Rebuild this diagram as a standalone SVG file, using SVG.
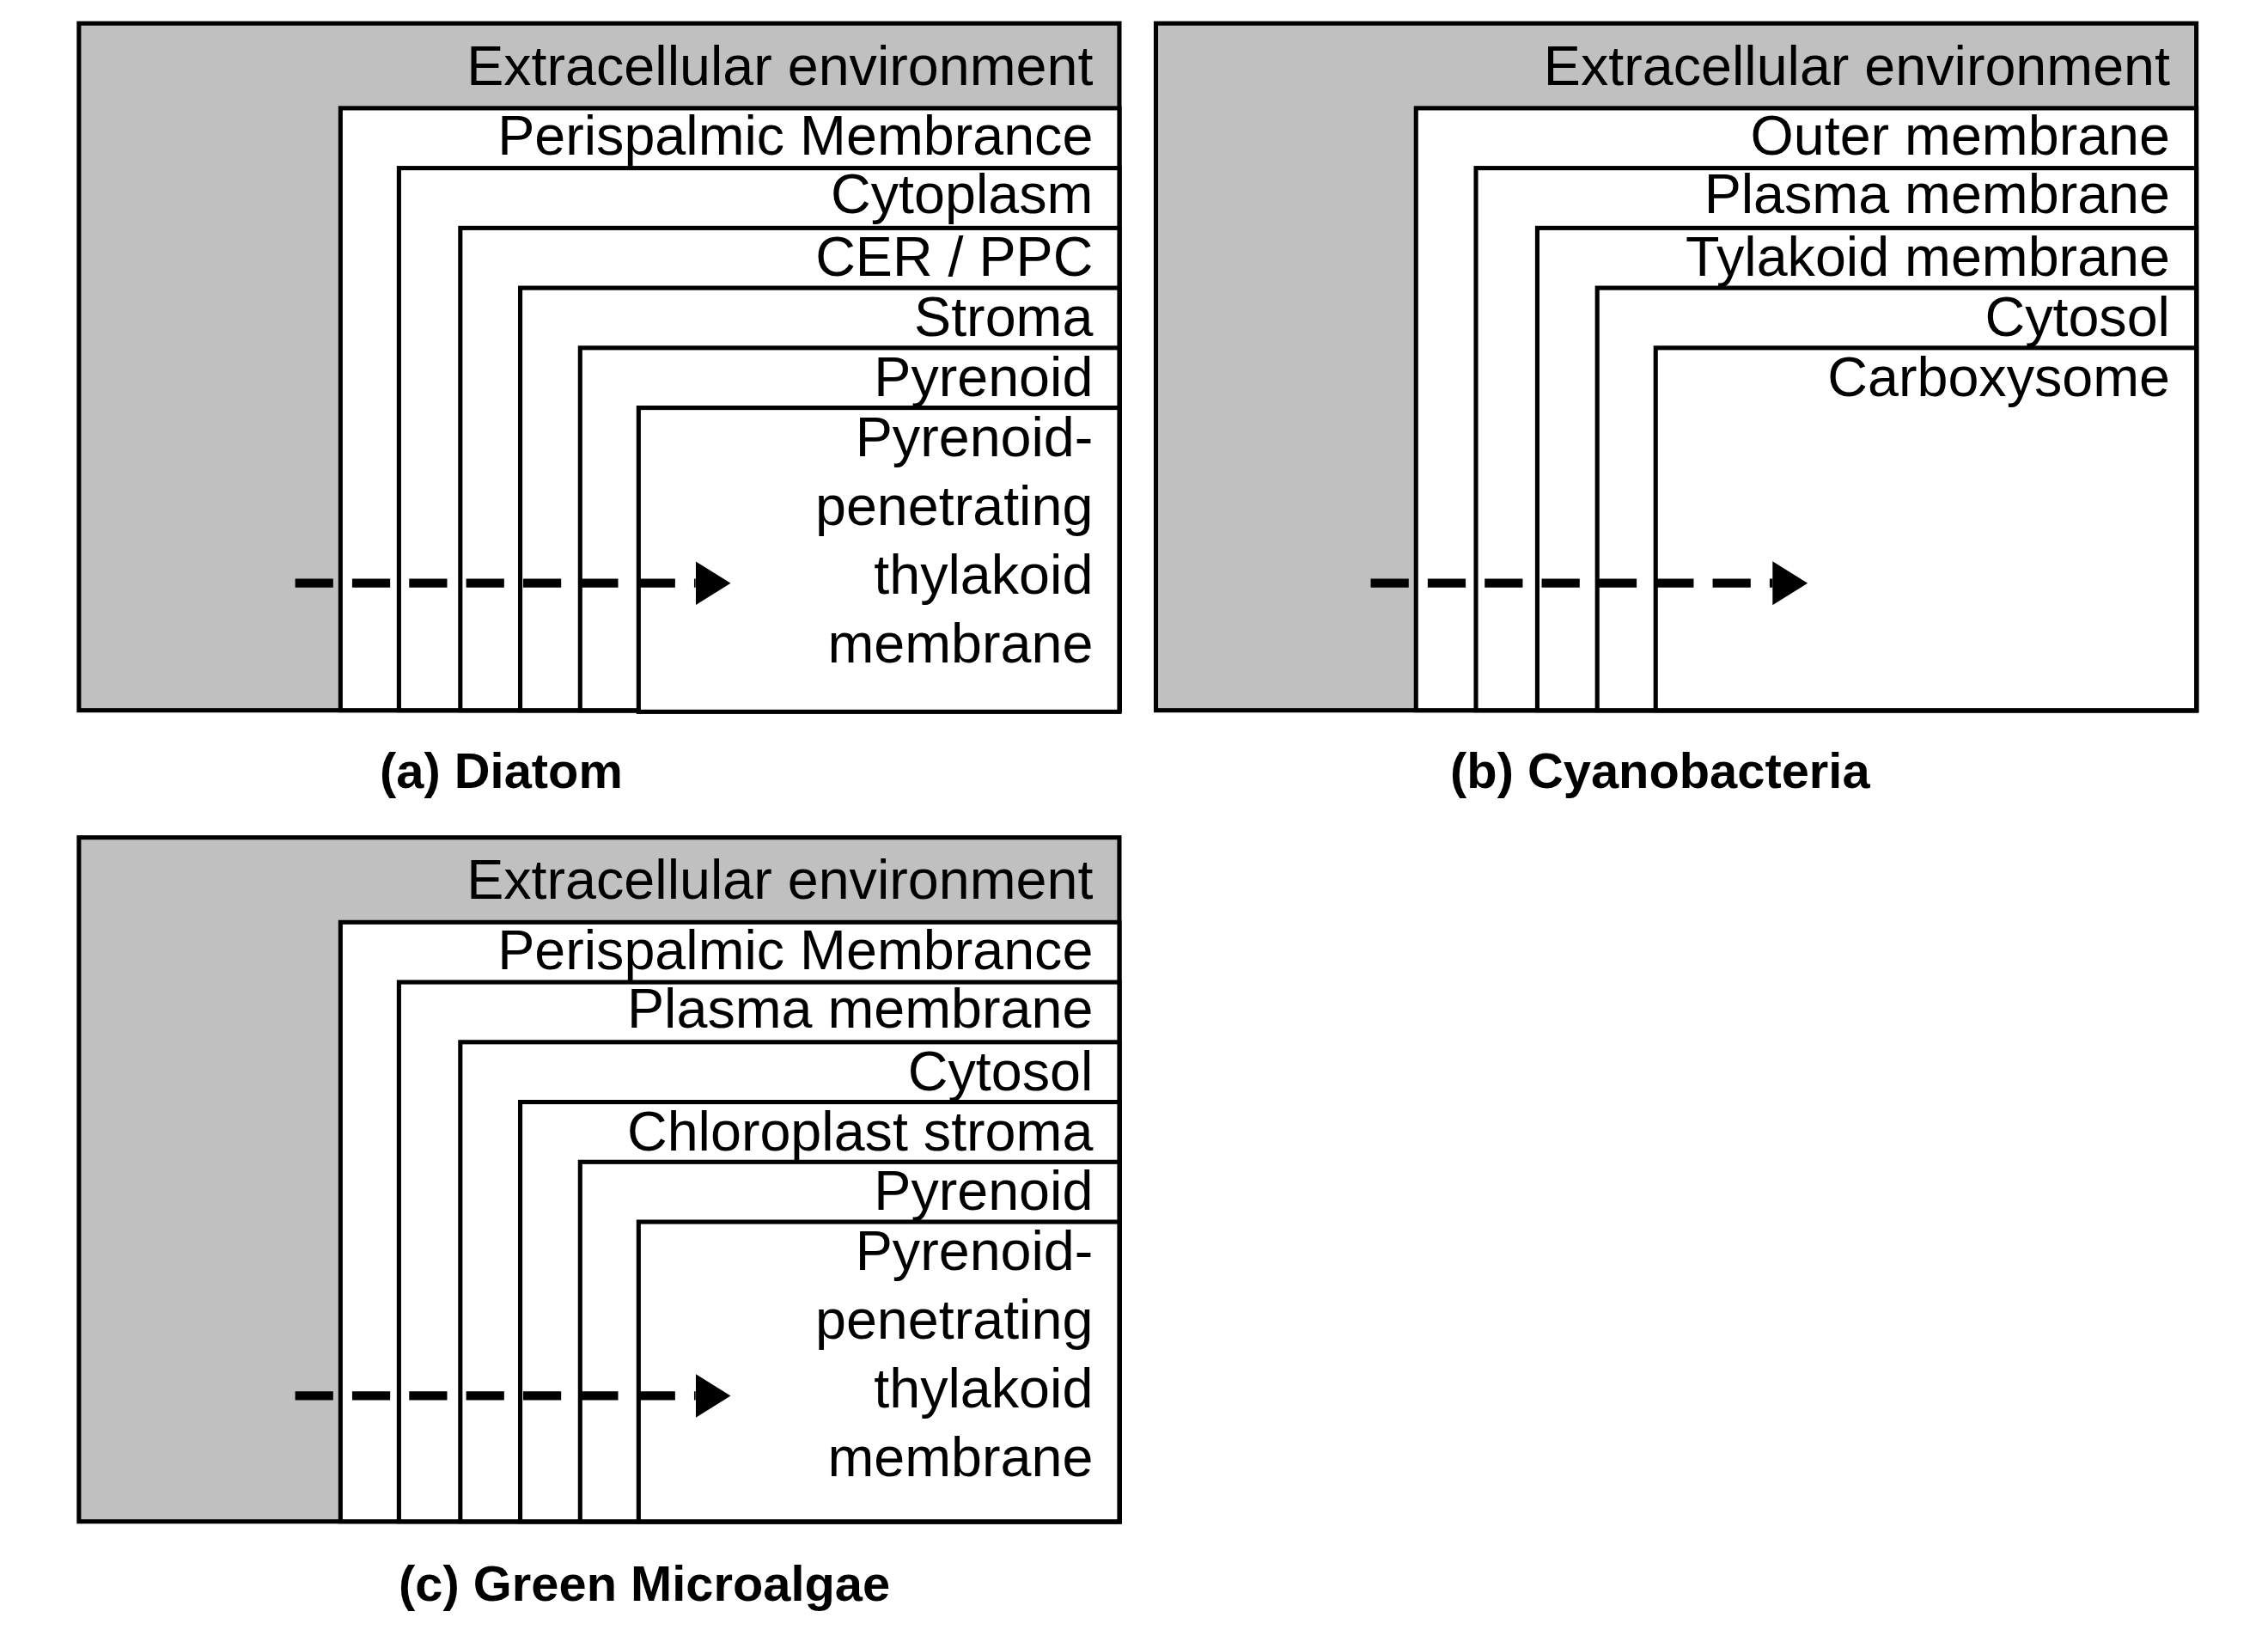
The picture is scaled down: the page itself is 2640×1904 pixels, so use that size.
<svg xmlns="http://www.w3.org/2000/svg" width="2640" height="1904" viewBox="0 0 2640 1904">
<style>
.o{fill:#c0c0c0;stroke:#000;stroke-width:3}
.r{fill:#fff;stroke:#000;stroke-width:3}
.t{font-family:"Liberation Sans",Arial,sans-serif;font-size:38px;text-anchor:end;fill:#000}
.c{font-family:"Liberation Sans",Arial,sans-serif;font-size:34px;font-weight:bold;text-anchor:middle;fill:#000}
.d{stroke:#000;stroke-width:6;stroke-dasharray:26 13;fill:none}
</style>
<defs><marker id="ah" markerWidth="5" markerHeight="5" refX="0" refY="2.5" orient="auto" markerUnits="strokeWidth"><path d="M0,0 L4,2.5 L0,5 Z" fill="#000"/></marker></defs>
<rect width="2640" height="1904" fill="#fff"/>
<g transform="scale(1.701)">
<g id="panel-a">
<rect class="o" x="54" y="16" width="712" height="470"/>
<rect class="r" x="233" y="74" width="533" height="412"/>
<rect class="r" x="273" y="115" width="493" height="371"/>
<rect class="r" x="315" y="156" width="451" height="330"/>
<rect class="r" x="356" y="197" width="410" height="289"/>
<rect class="r" x="397" y="238" width="369" height="248"/>
<rect class="r" x="437" y="279" width="329" height="208"/>
<text class="t" x="748" y="58">Extracellular environment</text>
<text class="t" x="748" y="106">Perispalmic Membrance</text>
<text class="t" x="748" y="146">Cytoplasm</text>
<text class="t" x="748" y="189">CER / PPC</text>
<text class="t" x="748" y="230">Stroma</text>
<text class="t" x="748" y="271">Pyrenoid</text>
<text class="t" x="748" y="312">Pyrenoid-</text>
<text class="t" x="748" y="359">penetrating</text>
<text class="t" x="748" y="406">thylakoid</text>
<text class="t" x="748" y="453">membrane</text>
<text class="c" x="343" y="539">(a) Diatom</text>
</g>
<g id="panel-b">
<rect class="o" x="791" y="16" width="712" height="470"/>
<rect class="r" x="969" y="74" width="534" height="412"/>
<rect class="r" x="1010" y="115" width="493" height="371"/>
<rect class="r" x="1052" y="156" width="451" height="330"/>
<rect class="r" x="1093" y="197" width="410" height="289"/>
<rect class="r" x="1133" y="238" width="370" height="248"/>
<text class="t" x="1485" y="58">Extracellular environment</text>
<text class="t" x="1485" y="106">Outer membrane</text>
<text class="t" x="1485" y="146">Plasma membrane</text>
<text class="t" x="1485" y="189">Tylakoid membrane</text>
<text class="t" x="1485" y="230">Cytosol</text>
<text class="t" x="1485" y="271">Carboxysome</text>
<text class="c" x="1136" y="539">(b) Cyanobacteria</text>
</g>
<g id="panel-c">
<rect class="o" x="54" y="573" width="712" height="468"/>
<rect class="r" x="233" y="631" width="533" height="410"/>
<rect class="r" x="273" y="672" width="493" height="369"/>
<rect class="r" x="315" y="713" width="451" height="328"/>
<rect class="r" x="356" y="754" width="410" height="287"/>
<rect class="r" x="397" y="795" width="369" height="246"/>
<rect class="r" x="437" y="836" width="329" height="205"/>
<text class="t" x="748" y="615">Extracellular environment</text>
<text class="t" x="748" y="663">Perispalmic Membrance</text>
<text class="t" x="748" y="703">Plasma membrane</text>
<text class="t" x="748" y="746">Cytosol</text>
<text class="t" x="748" y="787">Chloroplast stroma</text>
<text class="t" x="748" y="828">Pyrenoid</text>
<text class="t" x="748" y="869">Pyrenoid-</text>
<text class="t" x="748" y="916">penetrating</text>
<text class="t" x="748" y="963">thylakoid</text>
<text class="t" x="748" y="1010">membrane</text>
<text class="c" x="441" y="1095">(c) Green Microalgae</text>
</g>
<g id="connectors">
<path class="d" d="M202,399 H476" marker-end="url(#ah)"/>
<path class="d" d="M938,399 H1213" marker-end="url(#ah)"/>
<path class="d" d="M202,955 H476" marker-end="url(#ah)"/>
</g>
</g>
</svg>
